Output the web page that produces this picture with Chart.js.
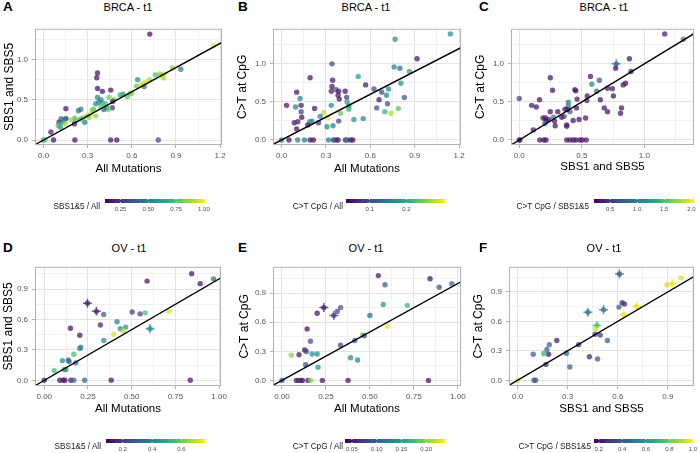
<!DOCTYPE html>
<html>
<head>
<meta charset="utf-8">
<script src="https://cdn.jsdelivr.net/npm/chart.js@4.4.1/dist/chart.umd.min.js"></script>
<style>
body { margin: 0; background: #fff; font-family: "Liberation Sans", Arial, sans-serif; }
#wrap { position: relative; width: 700px; height: 453px; overflow: hidden; }
.box { position: absolute; }
.txt { position: absolute; white-space: nowrap; color: #000; }
.tag { font-weight: bold; font-size: 13.5px; line-height: 14px; }
.ttl { font-size: 11px; line-height: 14px; transform: translateX(-50%); }
.cbt { font-size: 8.2px; line-height: 10px; color: #1a1a1a; transform: translateX(-100%); }
</style>
</head>
<body>
<div id="wrap"></div>
<script>
// A: BRCA, SBS1 and SBS5 vs All Mutations
const aX = [0.722,1.155,0.933,0.876,0.82,0.80,0.815,0.79,0.76,0.72, 0.70,0.68,0.66,0.684,0.64,0.59,0.57,0.54,0.48,0.47, 0.457,0.468,0.367,0.362,0.367,0.40,0.367,0.355,0.375,0.40, 0.42,0.445,0.43,0.44,0.41,0.39,0.34,0.32,0.31,0.355, 0.30,0.254,0.237,0.213,0.22,0.19,0.28,0.21,0.152,0.152, 0.14,0.12,0.105,0.13,0.10,0.115,0.15,0.05,0.0,0.01, 0.068,0.213,0.457,0.498,0.78,0.33,0.27,0.52,0.60,0.63, 0.39,0.25];
const aY = [1.316,1.17,0.879,0.898,0.82,0.80,0.77,0.82,0.81,0.75, 0.72,0.70,0.685,0.664,0.75,0.58,0.54,0.57,0.50,0.48, 0.62,0.40,0.832,0.773,0.64,0.605,0.53,0.45,0.47,0.46, 0.45,0.53,0.40,0.38,0.38,0.41,0.38,0.32,0.28,0.30, 0.30,0.383,0.363,0.27,0.24,0.25,0.22,0.20,0.39,0.266, 0.25,0.265,0.22,0.22,0.18,0.16,0.20,0.10,0.0,0.0, 0.0,0.0,0.0,0.0,0.0,0.37,0.28,0.56,0.58,0.67, 0.50,0.26];
const aC = [0.15,0.97,0.45,0.85,0.95,0.95,0.9,0.85,0.75,0.9, 0.95,0.92,0.95,0.45,0.55,0.8,0.78,0.55,0.8,0.2, 0.15,0.25,0.15,0.15,0.15,0.15,0.5,0.55,0.55,0.7, 0.75,0.8,0.5,0.8,0.4,0.75,0.7,0.95,0.9,0.85, 0.8,0.45,0.45,0.75,0.8,0.85,0.45,0.2,0.15,0.15, 0.55,0.4,0.2,0.6,0.75,0.6,0.9,0.2,0.55,0.8, 0.15,0.15,0.15,0.15,0.3,0.85,0.85,0.7,0.85,0.8, 0.5,0.7];
const aErr = [];

// B: BRCA, C>T at CpG vs All Mutations
const bX = [1.141,0.768,0.916,0.341,0.193,0.518,0.761,0.80,0.864,0.807, 0.345,0.341,0.336,0.368,0.386,0.382,0.39,0.43,0.44,0.443, 0.455,0.455,0.398,0.386,0.348,0.307,0.336,0.284,0.311,0.261, 0.25,0.223,0.205,0.19,0.177,0.136,0.132,0.132,0.125,0.102, 0.095,0.034,0.086,0.11,0.102,0,0.05,0.109,0.155,0.193, 0.216,0.318,0.352,0.368,0.382,0.432,0.443,0.466,0.482,0.568, 0.552,0.489,0.625,0.643,0.677,0.709,0.716,0.723,0.698,0.739, 0.659,0.83,0.789];
const bY = [1.393,1.322,1.066,1.0,0.818,0.835,0.959,0.942,0.90,0.744, 0.785,0.702,0.64,0.661,0.64,0.587,0.537,0.64,0.56,0.50, 0.446,0.405,0.35,0.248,0.186,0.174,0.455,0.36,0.29,0.31, 0.227,0.413,0.248,0.24,0.198,0.298,0.372,0.455,0.545,0.628, 0.434,0.455,0.227,0.24,0.145,0,0,0,0,0, 0,0,0,0,0,0,0,0,0,0.723, 0.281,0.269,0.669,0.421,0.628,0.587,0.475,0.67,0.372,0.351, 0.529,0.558,0.413];
const bC = [0.17,0.17,0.05,0.1,0.05,0.19,0.16,0.13,0.19,0.17, 0.05,0.05,0.06,0.1,0.05,0.05,0.05,0.05,0.08,0.19, 0.16,0.21,0.24,0.09,0.16,0.16,0.16,0.28,0.3,0.15, 0.07,0.05,0.15,0.18,0.05,0.05,0.09,0.05,0.15,0.05, 0.15,0.05,0.05,0.06,0.05,0.15,0.05,0.15,0.15,0.05, 0.05,0.15,0.06,0.1,0.05,0.05,0.15,0.05,0.05,0.05, 0.16,0.17,0.1,0.1,0.1,0.16,0.1,0.16,0.21,0.27, 0.05,0.11,0.23];
const bErr = [];

// C: BRCA, C>T at CpG vs SBS1 and SBS5
const cX = [1.162,1.311,0.775,0.77,0.88,0.893,0.569,0.58,0.64,0.619, 0.705,0.744,0.83,0.849,0.752,0.648,0.679,0.705,0.817,0.809, 0.543,0.54,0.53,0.478,0.462,0.444,0.452,0.457,0.431,0.392, 0.392,0.405,0.385,0.366,0.358,0.379,0.379,0.339,0.308,0.266, 0.248,0.248,0.274,0.282,0.287,0.235,0.209,0.214,0.204,0.19, 0.162,0.136,0.099,0.112,0,0,0.005,0.164,0.196,0.214, 0.379,0.405,0.431,0.452,0.483,0.504,0.535];
const cY = [1.393,1.322,1.0,0.942,1.066,0.90,0.835,0.731,0.785,0.64, 0.68,0.674,0.723,0.744,0.579,0.529,0.421,0.372,0.421,0.351, 0.579,0.517,0.289,0.269,0.537,0.661,0.645,0.421,0.256,0.496, 0.446,0.372,0.40,0.405,0.31,0.198,0.18,0.298,0.372,0.653, 0.818,0.372,0.298,0.248,0.186,0.269,0.289,0.248,0.215,0.289, 0.529,0.434,0.455,0.132,0.545,0,0,0,0,0, 0,0,0,0,0,0,0];
const cC = [0.35,1.05,0.85,0.3,0.3,0.3,0.3,1.05,0.7,0.85, 0.3,0.3,0.3,0.3,0.3,0.3,0.3,0.3,0.3,0.3, 0.3,0.35,0.3,0.3,0.3,0.3,0.3,0.3,0.3,1.0, 1.0,0.7,0.3,0.3,0.6,0.3,0.35,0.3,0.3,0.3, 0.3,0.3,0.95,0.3,0.3,0.3,0.3,0.3,0.8,0.3, 0.3,0.3,0.3,0.3,0.55,0.6,0.3,0.3,0.3,0.3, 0.3,0.3,0.3,0.3,0.3,0.3,0.3];
const cErr = [2];

// D: OV, SBS1 and SBS5 vs All Mutations
const dX = [0.843,0.968,0.892,0.588,0.247,0.298,0.34,0.321,0.503,0.548, 0.577,0.416,0.435,0.465,0.452,0.397,0.34,0.605,0.712,0.15, 0.203,0.209,0.203,0.169,0.137,0.142,0.104,0.18,0.112,0.123, 0.057,0,0.089,0.108,0.118,0.152,0.169,0.231,0.383,0.835];
const dY = [1.05,1.0,0.953,0.978,0.759,0.68,0.649,0.546,0.674,0.655, 0.665,0.577,0.508,0.524,0.486,0.455,0.392,0.508,0.68,0.514, 0.445,0.326,0.314,0.257,0.2,0.185,0.194,0.172,0.107,0.107, 0.094,0,0,0,0,0,0,0,0,0];
const dC = [0.12,0.3,0.12,0.12,0.15,0.15,0.3,0.15,0.2,0.2, 0.55,0.35,0.4,0.45,0.7,0.72,0.4,0.4,0.72,0.12, 0.12,0.4,0.4,0.55,0.3,0.3,0.4,0.3,0.55,0.4, 0.55,0.15,0.12,0.12,0.12,0.12,0.3,0.3,0.12,0.12];
const dErr = [4, 5, 17];

// E: OV, C>T at CpG vs All Mutations
const eX = [0.548,0.842,0.586,0.894,0.966,0.576,0.713,0.238,0.333,0.314, 0.295,0.2,0.5,0.143,0.162,0.458,0.468,0.599,0.414,0.333, 0.39,0.43,0.129,0.139,0.097,0.053,0.171,0.2,0.205,0.135, 0,0.082,0.097,0.106,0.116,0.148,0.163,0.23,0.376,0.833];
const eY = [1.081,1.049,0.987,0.961,0.997,0.783,0.774,0.751,0.751,0.712, 0.67,0.693,0.67,0.531,0.405,0.469,0.46,0.557,0.411,0.363, 0.233,0.21,0.314,0.298,0.265,0.259,0.272,0.272,0.136,0.162, 0,0,0,0,0,0,0,0,0,0];
const eC = [0.045,0.045,0.09,0.09,0.11,0.14,0.17,0.05,0.09,0.08, 0.07,0.045,0.1,0.045,0.08,0.2,0.09,0.235,0.09,0.08, 0.13,0.13,0.045,0.08,0.05,0.2,0.14,0.13,0.14,0.08, 0.09,0.045,0.045,0.09,0.045,0.045,0.2,0.045,0.045,0.045];
const eErr = [7, 10];

// F: OV, C>T at CpG vs SBS1 and SBS5
const fX = [0.61,0.978,0.925,0.894,0.626,0.64,0.607,0.515,0.421,0.714, 0.636,0.475,0.466,0.464,0.495,0.538,0.235,0.366,0.19,0.176, 0.186,0.157,0.094,0.17,0.293,0.313,0.43,0.479,0,0.098, 0.108];
const fY = [1.081,1.042,0.984,0.971,0.79,0.777,0.745,0.719,0.693,0.751, 0.67,0.557,0.524,0.469,0.46,0.405,0.405,0.363,0.363,0.314, 0.265,0.272,0.265,0.162,0.275,0.136,0.24,0.217,0,0, 0];
const fC = [0.4,0.95,0.98,0.95,0.25,0.25,0.4,0.5,0.5,0.97, 0.98,0.75,0.95,0.3,0.3,0.4,0.2,0.25,0.4,0.4, 0.2,0.7,0.4,0.25,0.4,0.4,0.25,0.4,0.95,0.4, 0.4];
const fErr = [0, 2, 7, 8, 9, 10, 11];

// axis breaks
const brcaAllTicks = [0, 0.3, 0.6, 0.9, 1.2];
const brcaYTicks = [0, 0.5, 1.0];
const ovAllTicks = [0, 0.25, 0.5, 0.75, 1.0];
const ovYTicks = [0, 0.3, 0.6, 0.9];
const ovSbsTicks = [0, 0.3, 0.6, 0.9];

// colour bar breaks
const aCTicks = [0.25, 0.5, 0.75, 1.0];
const bCTicks = [0.1, 0.2];
const cCTicks = [0.5, 1.0, 1.5, 2.0];
const dCTicks = [0.2, 0.4, 0.6];
const eCTicks = [0.05, 0.1, 0.15, 0.2];
const fCTicks = [0.2, 0.4, 0.6, 0.8, 1.0];

const panels = [
  {tag: 'A', title: 'BRCA - t1', x: aX, y: aY, c: aC, err: aErr, xLabel: 'All Mutations', yLabel: 'SBS1 and SBS5',
   xTicks: brcaAllTicks, yTicks: brcaYTicks, xDec: 1, xRange: [-0.058, 1.213], yRange: [-0.062, 1.382],
   cLabel: 'SBS1&5 / All', cRange: [0.11, 1.01], cTicks: aCTicks, cDec: 2},
  {tag: 'B', title: 'BRCA - t1', x: bX, y: bY, c: bC, err: bErr, xLabel: 'All Mutations', yLabel: 'C>T at CpG',
   xTicks: brcaAllTicks, yTicks: brcaYTicks, xDec: 1, xRange: [-0.058, 1.213], yRange: [-0.066, 1.46],
   cLabel: 'C>T CpG / All', cRange: [0.036, 0.305], cTicks: bCTicks, cDec: 1},
  {tag: 'C', title: 'BRCA - t1', x: cX, y: cY, c: cC, err: cErr, xLabel: 'SBS1 and SBS5', yLabel: 'C>T at CpG',
   xTicks: brcaYTicks, yTicks: brcaYTicks, xDec: 1, xRange: [-0.066, 1.396], yRange: [-0.066, 1.46],
   cLabel: 'C>T CpG / SBS1&5', cRange: [0.2, 2.05], cTicks: cCTicks, cDec: 1},
  {tag: 'D', title: 'OV - t1', x: dX, y: dY, c: dC, err: dErr, xLabel: 'All Mutations', yLabel: 'SBS1 and SBS5',
   xTicks: ovAllTicks, yTicks: ovYTicks, xDec: 2, xRange: [-0.053, 1.011], yRange: [-0.056, 1.119],
   cLabel: 'SBS1&5 / All', cRange: [0.086, 0.76], cTicks: dCTicks, cDec: 1},
  {tag: 'E', title: 'OV - t1', x: eX, y: eY, c: eC, err: eErr, xLabel: 'All Mutations', yLabel: 'C>T at CpG',
   xTicks: ovAllTicks, yTicks: ovYTicks, xDec: 2, xRange: [-0.051, 1.018], yRange: [-0.058, 1.172],
   cLabel: 'C>T CpG / All', cRange: [0.036, 0.238], cTicks: eCTicks, cDec: 2},
  {tag: 'F', title: 'OV - t1', x: fX, y: fY, c: fC, err: fErr, xLabel: 'SBS1 and SBS5', yLabel: 'C>T at CpG',
   xTicks: ovSbsTicks, yTicks: ovYTicks, xDec: 1, xRange: [-0.051, 1.056], yRange: [-0.058, 1.155],
   cLabel: 'C>T CpG / SBS1&5', cRange: [0.16, 1.0], cTicks: fCTicks, cDec: 1}
];

// where each panel sits on the page
const layout = [
  {left: 0,   top: 20,  w: 230, h: 160, yw: 35, padR: 8, ytc: 9.5, xtc: 169.3, tagX: 3,   titleX: 128, titleY: 7,     barL: 105, barR: 205, barT: 199, cbR: 100},
  {left: 232, top: 20,  w: 237, h: 160, yw: 41, padR: 8, ytc: 243, xtc: 169,   tagX: 238, titleX: 366, titleY: 7,     barL: 346, barR: 445, barT: 199, cbR: 343},
  {left: 470, top: 20,  w: 230, h: 160, yw: 41, padR: 2, ytc: 481, xtc: 167,   tagX: 479, titleX: 604, titleY: 7,     barL: 594, barR: 694, barT: 199, cbR: 589},
  {left: 0,   top: 258, w: 230, h: 163, yw: 35, padR: 8, ytc: 8.5, xtc: 409,   tagX: 3,   titleX: 129, titleY: 247.7, barL: 106, barR: 205, barT: 439, cbR: 101},
  {left: 232, top: 258, w: 237, h: 163, yw: 41, padR: 8, ytc: 245, xtc: 409,   tagX: 238, titleX: 366, titleY: 247.7, barL: 345, barR: 445, barT: 439, cbR: 343},
  {left: 468, top: 258, w: 232, h: 163, yw: 41, padR: 2, ytc: 479, xtc: 409,   tagX: 479, titleX: 604, titleY: 247.7, barL: 594, barR: 693, barT: 439, cbR: 591}
];

Chart.defaults.font.family = '"Liberation Sans", Arial, sans-serif';

const VIR = ['#440154', '#472d7b', '#3b528b', '#2c728e', '#21918c', '#28ae80', '#5ec962', '#addc30', '#fde725'];
function hexRgb(h) { return [1, 3, 5].map(i => parseInt(h.substr(i, 2), 16)); }
function viridis(t, a) {
  t = Math.max(0, Math.min(1, t));
  const f = t * 8, i = Math.min(7, Math.floor(f)), u = f - i;
  const c0 = hexRgb(VIR[i]), c1 = hexRgb(VIR[i + 1]);
  const c = c0.map((v, k) => Math.round(v + (c1[k] - v) * u));
  return 'rgba(' + c[0] + ',' + c[1] + ',' + c[2] + ',' + a + ')';
}

const wrap = document.getElementById('wrap');

function addCanvas(l, t, w, h) {
  const d = document.createElement('div');
  d.className = 'box';
  d.style.left = l + 'px'; d.style.top = t + 'px';
  d.style.width = w + 'px'; d.style.height = h + 'px';
  const cv = document.createElement('canvas');
  cv.width = w; cv.height = h;
  cv.style.width = w + 'px'; cv.style.height = h + 'px';
  d.appendChild(cv);
  wrap.appendChild(d);
  return cv;
}

function addText(cls, text, l, t) {
  const s = document.createElement('div');
  s.className = 'txt ' + cls;
  s.textContent = text;
  s.style.left = l + 'px'; s.style.top = t + 'px';
  wrap.appendChild(s);
}

// major breaks plus the minor ones half-way between
function gridValues(majors, range) {
  const half = (majors[1] - majors[0]) / 2;
  const out = [];
  for (let k = Math.ceil(range[0] / half); k <= Math.floor(range[1] / half); k++) out.push(k * half);
  return out;
}
function isMajor(v, majors) {
  const step = majors[1] - majors[0];
  return Math.abs(v / step - Math.round(v / step)) < 1e-6;
}

const frame = {
  id: 'frame',
  afterDraw(chart) {
    const a = chart.chartArea, g = chart.ctx;
    g.save();
    g.strokeStyle = '#b3b3b3';
    g.lineWidth = 1;
    g.strokeRect(a.left + 0.5, a.top + 0.5, a.right - a.left - 1, a.bottom - a.top - 1);
    g.restore();
  }
};

const gradientBar = {
  id: 'gradientBar',
  afterDraw(chart) {
    const a = chart.chartArea, g = chart.ctx;
    const gr = g.createLinearGradient(a.left, 0, a.right, 0);
    for (let i = 0; i <= 32; i++) gr.addColorStop(i / 32, viridis(i / 32, 1));
    g.save();
    g.fillStyle = gr;
    g.fillRect(a.left, a.top, a.right - a.left, a.bottom - a.top);
    const s = chart.scales.x;
    g.strokeStyle = '#fff';
    g.lineWidth = 0.8;
    s.ticks.forEach(t => {
      const x = s.getPixelForValue(t.value);
      g.beginPath();
      g.moveTo(x, a.top); g.lineTo(x, a.top + 1);
      g.moveTo(x, a.bottom - 1); g.lineTo(x, a.bottom);
      g.stroke();
    });
    g.restore();
  }
};

function axis(p, which, L) {
  const majors = which === 'x' ? p.xTicks : p.yTicks;
  const range = which === 'x' ? p.xRange : p.yRange;
  const dec = which === 'x' ? p.xDec : 1;
  const grid = gridValues(majors, range);
  const fs = which === 'x' ? 11.5 : 12;
  const lh = fs * 1.2;
  const titlePad = which === 'x'
    ? {top: 0, bottom: (L.top + L.h) - L.xtc - lh / 2}
    : {top: L.ytc - L.left - lh / 2, bottom: 0};
  return {
    type: 'linear',
    min: range[0],
    max: range[1],
    afterBuildTicks: s => { s.ticks = grid.map(v => ({value: v})); },
    afterFit: s => { if (which === 'x') s.height = 35; else s.width = L.yw; },
    ticks: {
      autoSkip: false,
      maxRotation: 0,
      font: {size: 8},
      color: '#555',
      padding: which === 'x' ? 3 : 4,
      callback: v => isMajor(v, majors) ? v.toFixed(dec) : ''
    },
    grid: {
      color: ctx => isMajor(ctx.tick.value, majors) ? '#e3e3e3' : '#f1f1f1',
      lineWidth: 1,
      tickLength: 3,
      tickColor: ctx => isMajor(ctx.tick.value, majors) ? '#b3b3b3' : 'rgba(0,0,0,0)'
    },
    border: {display: false},
    title: {
      display: true,
      text: which === 'x' ? p.xLabel : p.yLabel,
      color: '#000',
      font: {size: fs},
      padding: titlePad
    }
  };
}

panels.forEach((p, i) => {
  const L = layout[i];
  const cv = addCanvas(L.left, L.top, L.w, L.h);
  const pts = p.x.map((v, k) => ({x: v, y: p.y[k]}));
  const cols = p.c.map(v => viridis((v - p.cRange[0]) / (p.cRange[1] - p.cRange[0]), 0.72));
  const errPts = p.err.map(k => pts[k]);
  const errCols = p.err.map(k => cols[k]);
  const lo = Math.min(p.xRange[0], p.yRange[0]) - 1, hi = Math.max(p.xRange[1], p.yRange[1]) + 1;
  new Chart(cv, {
    type: 'scatter',
    data: {
      datasets: [
        {data: [{x: lo, y: lo}, {x: hi, y: hi}], showLine: true, borderColor: '#000', borderWidth: 1.4, pointRadius: 0, clip: 0},
        {data: pts, backgroundColor: cols, borderWidth: 0, pointRadius: 2.7, pointHoverRadius: 2.7},
        {data: errPts, pointStyle: 'cross', borderColor: errCols, borderWidth: 1.5, pointRadius: 4.5, pointHoverRadius: 4.5}
      ]
    },
    plugins: [frame],
    options: {
      animation: false,
      responsive: false,
      devicePixelRatio: 1,
      events: [],
      layout: {padding: {left: 0, right: L.padR, top: 2, bottom: 0}},
      plugins: {legend: {display: false}, tooltip: {enabled: false}},
      scales: {x: axis(p, 'x', L), y: axis(p, 'y', L)}
    }
  });

  // colour bar
  const bw = L.barR - L.barL, bh = 4, ch = 18;
  const cb = addCanvas(L.barL - 14, L.barT, bw + 28, ch);
  new Chart(cb, {
    type: 'scatter',
    data: {datasets: []},
    plugins: [gradientBar],
    options: {
      animation: false,
      responsive: false,
      devicePixelRatio: 1,
      events: [],
      layout: {padding: {left: 14, right: 14, top: 0, bottom: 0}},
      plugins: {legend: {display: false}, tooltip: {enabled: false}},
      scales: {
        x: {
          type: 'linear',
          min: p.cRange[0],
          max: p.cRange[1],
          afterBuildTicks: s => { s.ticks = p.cTicks.map(v => ({value: v})); },
          afterFit: s => { s.height = ch - bh; },
          grid: {display: false, drawTicks: false},
          border: {display: false},
          ticks: {font: {size: 6}, color: '#4d4d4d', padding: 3, autoSkip: false, maxRotation: 0,
                  callback: v => v.toFixed(p.cDec)}
        },
        y: {display: false}
      }
    }
  });

  addText('tag', p.tag, L.tagX, L.titleY - 7);
  addText('ttl', p.title, L.titleX, L.titleY - 7);
  addText('cbt', p.cLabel, L.cbR, L.barT + 3);
});
</script>
</body>
</html>
